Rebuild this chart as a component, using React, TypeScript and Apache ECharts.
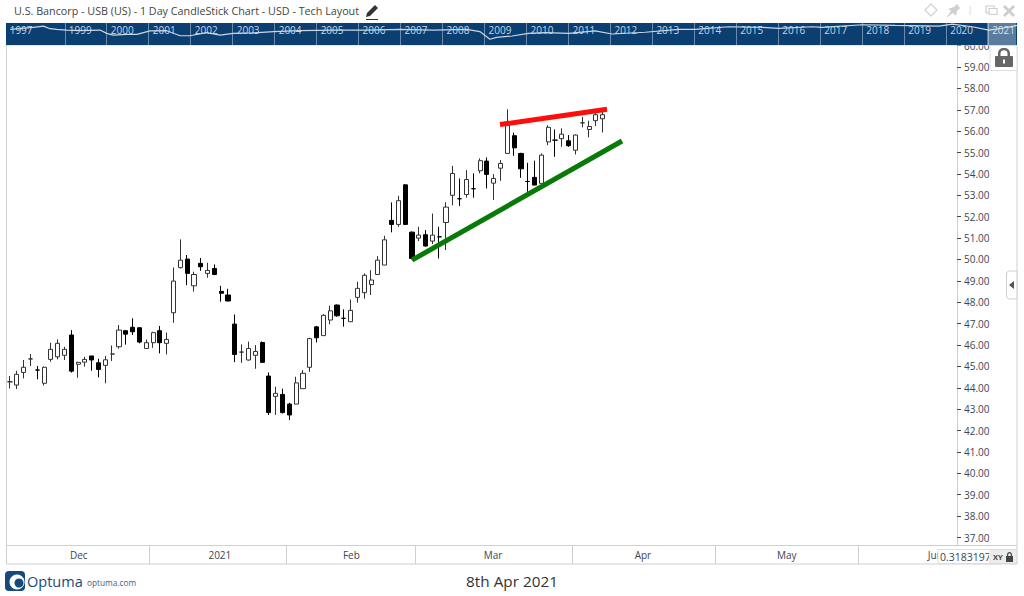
import React, { useEffect, useRef } from "react";
import * as echarts from "echarts";

const FONT = '"Open Sans", sans-serif';

const opens = [44.28,44.13,44.72,45.35,44.83,44.21,45.33,45.45,45.52,46.47,45.10,45.20,45.49,45.17,45.05,45.58,45.92,46.67,46.83,46.81,45.84,46.11,46.67,46.08,47.51,49.62,50.02,48.77,49.82,49.35,49.58,48.51,48.34,46.98,45.67,45.30,45.52,46.12,44.55,43.60,43.69,43.24,43.24,43.96,44.96,46.85,46.44,47.17,47.87,47.25,47.09,48.23,48.45,48.83,49.30,49.74,51.83,51.64,53.49,51.28,51.00,51.16,50.86,51.06,51.73,53.00,52.84,53.04,53.31,54.15,54.60,53.57,54.27,54.96,55.79,54.96,53.65,53.84,53.56,55.50,55.58,55.65,55.55,55.11,56.39,56.08,56.49,56.58];
const closes = [44.28,44.63,44.96,45.35,44.83,44.96,45.80,46.08,45.80,44.78,45.19,45.33,45.30,44.86,45.31,45.58,46.70,46.51,46.62,46.14,46.11,46.58,46.11,46.26,48.99,49.97,49.35,49.30,49.66,49.49,49.30,48.42,48.06,45.56,45.67,45.84,45.70,45.19,42.84,43.74,42.84,42.73,44.23,44.68,46.30,46.34,47.39,47.60,47.37,47.25,47.62,48.65,49.26,49.04,49.97,50.92,51.64,52.75,51.64,50.05,51.14,50.63,51.14,51.06,52.45,54.02,52.84,53.74,53.31,54.62,53.98,53.79,54.49,56.28,55.22,54.24,53.65,53.48,54.88,56.18,55.58,55.86,55.32,55.82,56.39,56.22,56.77,56.77];
const lows = [43.97,43.94,44.44,45.02,44.40,44.11,45.22,45.33,45.30,44.71,44.47,44.99,44.80,44.49,44.21,45.25,45.83,46.02,46.47,46.08,45.84,45.87,45.61,45.56,47.04,49.58,48.80,48.50,49.47,49.15,49.27,48.03,48.04,45.20,45.17,45.27,44.89,45.16,42.73,42.73,42.80,42.49,43.24,43.96,44.75,46.12,46.44,46.97,47.32,46.86,47.09,47.98,48.17,48.34,49.30,49.74,51.27,51.53,51.61,50.00,50.86,50.60,50.72,50.05,50.44,52.53,52.50,52.89,52.89,54.03,53.32,52.78,53.68,54.96,54.85,53.82,53.17,53.48,53.56,55.35,54.80,55.27,55.27,54.91,56.18,55.71,56.24,55.94];
const highs = [44.55,44.80,45.30,45.58,45.02,45.00,46.11,46.27,45.92,46.70,45.22,45.45,45.49,45.36,45.49,45.98,46.94,46.70,47.25,46.83,46.26,46.62,46.89,46.58,49.63,50.94,50.21,49.43,50.07,49.85,49.77,48.77,48.63,47.43,46.03,46.16,46.00,46.17,44.72,44.05,43.96,43.30,44.52,44.83,46.34,46.89,47.45,47.84,47.90,47.67,48.13,48.96,49.35,49.50,50.16,51.11,52.67,52.98,53.53,51.31,51.53,51.38,52.15,51.53,52.68,54.38,53.79,54.18,54.03,54.73,54.77,53.99,54.65,57.02,55.93,54.99,54.52,54.62,54.96,56.28,56.08,56.13,55.82,55.85,56.67,56.49,56.90,56.90];

const monthNames = ["Dec", "2021", "Feb", "Mar", "Apr", "May", "Jun"];
const monthSessions = [21, 20, 19, 23, 21, 21, 14];
const monthStarts = [21, 41, 60, 83, 104, 125];
const monthLabelAt = [10.6, 31.3, 50.6, 71.4, 93.4, 114.5, 136.3];

const priceTicks = [37,38,39,40,41,42,43,44,45,46,47,48,49,50,51,52,53,54,55,56,57,58,59,60];

const redLineX = [72.42, 88.13];
const redLineY = [56.31, 57.03];
const greenLineX = [59.5, 90.33];
const greenLineY = [49.97, 55.54];

const overviewYears = [1997.7,1998.25,1998.49,1998.65,1998.81,1999.05,1999.36,1999.84,2000.0,2000.15,2000.48,2000.72,2001.03,2001.43,2001.75,2001.98,2002.38,2002.7,2003.01,2003.49,2003.97,2004.6,2005.4,2006.19,2006.99,2007.78,2008.58,2008.89,2009.13,2009.29,2009.66,2010.05,2010.45,2011.01,2011.64,2012.04,2012.83,2013.63,2014.03,2014.82,2015.62,2016.01,2016.81,2017.05,2018.0,2018.79,2019.83,2020.15,2020.62,2021.02,2021.34,2021.7];
const overviewValues = [71,80,86,74,71,68,65,68,53,45,48,48,64,65,42,42,56,45,53,55,61,65,68,68,71,68,71,61,26,35,41,53,56,53,64,50,58,71,71,83,80,76,83,80,92,89,86,95,83,68,76,89];

const yearDividers = [1999,2000,2001,2002,2003,2004,2005,2006,2007,2008,2009,2010,2011,2012,2013,2014,2015,2016,2017,2018,2019,2020,2021];
const yearLabelAt = [1997.96,1999.37,2000.37,2001.37,2002.37,2003.37,2004.37,2005.37,2006.37,2007.37,2008.37,2009.37,2010.37,2011.37,2012.37,2013.37,2014.37,2015.37,2016.37,2017.37,2018.37,2019.37,2020.37,2021.37];

const PENCIL = "M0 13 L1 9 L9 1 L12 4 L4 12 Z M0 15 H12 V16 H0 Z";
const LOCK = "M3 8 V5.5 C3 2 5.5 0 9 0 C12.5 0 15 2 15 5.5 V8 H17 Q18 8 18 9 V18 Q18 19 17 19 H1 Q0 19 0 18 V9 Q0 8 1 8 Z M5.5 8 H12.5 V5.5 C12.5 3.5 11 2.3 9 2.3 C7 2.3 5.5 3.5 5.5 5.5 Z M8 11.5 V15.5 H10 V11.5 Z";
const PIN = "M0 14 L5 7 L2 5 L8 3 L11 0 L14 4 L11 7 L10 12 L7 9 Z";
const CROSS = "M0 2 L2 0 L6 4 L10 0 L12 2 L8 6 L12 10 L10 12 L6 8 L2 12 L0 10 L4 6 Z";
const SMALLLOCK = "M1 4 V3 C1 1 2 0 3.5 0 C5 0 6 1 6 3 V4 H7 V10 H0 V4 Z M2.2 4 H4.8 V3 C4.8 2 4.3 1.2 3.5 1.2 C2.7 1.2 2.2 2 2.2 3 Z";

function App() {
  const ref = useRef<HTMLDivElement>(null);
  useEffect(() => {
    document.body.style.margin = "0";
    echarts.graphic.registerShape("usbPencil", echarts.graphic.extendPath(PENCIL, {}));
    echarts.graphic.registerShape("usbLock", echarts.graphic.extendPath(LOCK, {}));
    echarts.graphic.registerShape("usbPin", echarts.graphic.extendPath(PIN, {}));
    echarts.graphic.registerShape("usbCross", echarts.graphic.extendPath(CROSS, {}));
    echarts.graphic.registerShape("usbSmallLock", echarts.graphic.extendPath(SMALLLOCK, {}));
    const chart = echarts.init(ref.current!, undefined, { renderer: "svg" });
    const categories: string[] = [];
    monthNames.forEach((m, i) => {
      for (let d = 0; d < monthSessions[i]; d++) categories.push(m + "-" + (d + 1));
    });
    const candles = opens.map((o, i) => [o, closes[i], lows[i], highs[i]]);
    const BORDER = "#cfcfcf";
    const hi = 100;
    const option: any = {
      animation: false,
      backgroundColor: "#fff",
      grid: [
        { left: 6.6, top: 45, width: 947, height: 500 },
        { left: 6, top: 23, width: 1011, height: 22 },
      ],
      xAxis: [
        { type: "category", gridIndex: 0, data: categories, show: false, boundaryGap: true },
        {
          type: "value", gridIndex: 0, min: 0, max: 139, position: "bottom",
          splitLine: { show: false },
          axisLine: { show: false, onZero: false },
          axisTick: { show: true, customValues: monthStarts, length: 19, lineStyle: { color: BORDER, width: 1 } },
          axisLabel: {
            show: true, customValues: monthLabelAt, margin: 5, fontFamily: FONT, fontSize: 10, color: "#3a4654",
            formatter: (v: number) => monthNames[monthLabelAt.indexOf(v)],
          },
        },
        {
          type: "value", gridIndex: 1, min: 1997.6, max: 2021.69, position: "bottom", z: 20,
          splitLine: { show: false },
          axisLine: { show: false, onZero: false },
          axisTick: { show: true, inside: true, customValues: yearDividers, length: 22, lineStyle: { color: "rgba(255,255,255,0.4)", width: 1 } },
          axisLabel: {
            show: true, inside: true, margin: 10, customValues: yearLabelAt,
            fontFamily: FONT, fontSize: 10, color: "#c6d4e2",
            formatter: (v: number) => String(Math.floor(v)),
          },
        },
      ],
      yAxis: [
        {
          type: "value", gridIndex: 0, position: "right", offset: 3.4, min: 36.65, max: 60.03,
          splitLine: { show: false },
          axisLine: { show: true, onZero: false, lineStyle: { color: BORDER } },
          axisTick: { show: true, customValues: priceTicks, length: 4, lineStyle: { color: "#444" } },
          axisLabel: {
            show: true, customValues: priceTicks, margin: 7, fontFamily: FONT, fontSize: 10, color: "#3a4654",
            formatter: (v: number) => v.toFixed(2),
          },
        },
        { type: "value", gridIndex: 1, min: 0, max: 100, show: false },
      ],
      series: [
        {
          type: "candlestick", xAxisIndex: 0, yAxisIndex: 0, data: candles, barWidth: 4.6,
          itemStyle: { color: "#fff", color0: "#000", borderColor: "#333", borderColor0: "#000", borderWidth: 1 },
        },
        {
          type: "line", xAxisIndex: 1, yAxisIndex: 0, symbol: "none", z: 5,
          data: redLineX.map((x, i) => [x, redLineY[i]]),
          lineStyle: { color: "#ff0d0d", width: 5 },
        },
        {
          type: "line", xAxisIndex: 1, yAxisIndex: 0, symbol: "none", z: 5,
          data: greenLineX.map((x, i) => [x, greenLineY[i]]),
          lineStyle: { color: "#087a08", width: 5 },
        },
        {
          type: "line", xAxisIndex: 2, yAxisIndex: 1, symbol: "none", z: 20,
          data: overviewYears.map((x, i) => [x, overviewValues[i]]),
          lineStyle: { color: "#c9d6e3", width: 1.2 },
        },
      ],
      graphic: [
        // frame
        { type: "rect", z: 1, shape: { x: 6.5, y: 45, width: 1010.5, height: 519 }, style: { fill: "none", stroke: BORDER, lineWidth: 1 } },
        { type: "line", z: 1, shape: { x1: 6, y1: 545.5, x2: 1017, y2: 545.5 }, style: { stroke: BORDER, lineWidth: 1 } },
        // overview band
        { type: "rect", z: 5, shape: { x: 6, y: 23, width: 1011, height: 22 }, style: { fill: "#0b3f72" } },
        { type: "rect", z: 30, shape: { x: 987, y: 23, width: 29, height: 22 }, style: { fill: "rgba(255,255,255,0.32)" } },
        // header
        { type: "text", z: hi, x: 14, y: 11, style: { text: "U.S. Bancorp - USB (US) - 1 Day CandleStick Chart - USD - Tech Layout", font: `10.75px ${FONT}`, fill: "#444", verticalAlign: "middle" } },
        { type: "usbPencil", z: hi, x: 366, y: 4, scaleX: 1, scaleY: 1, style: { fill: "#333" } },
        // window icons
        { type: "polygon", z: hi, shape: { points: [[931, 4], [937, 10], [931, 16], [925, 10]] }, style: { fill: "none", stroke: "#d4d4d4", lineWidth: 1.3 } },
        { type: "usbPin", z: hi, x: 946, y: 4, style: { fill: "#d0d0d0" } },
        { type: "rect", z: hi, shape: { x: 969.5, y: 6, width: 1.5, height: 9 }, style: { fill: "#e8e8e8" } },
        { type: "rect", z: hi, shape: { x: 986, y: 6, width: 8, height: 7 }, style: { fill: "none", stroke: "#cfcfcf", lineWidth: 1.2 } },
        { type: "rect", z: hi, shape: { x: 989, y: 8.5, width: 8, height: 6 }, style: { fill: "#fff", stroke: "#cfcfcf", lineWidth: 1.2 } },
        { type: "usbCross", z: hi, x: 1003, y: 5, style: { fill: "#cdcdcd" } },
        // lock tab
        { type: "rect", z: hi, shape: { x: 990, y: 45.5, width: 27, height: 25 }, style: { fill: "#fff", stroke: "#dedede", lineWidth: 1 } },
        { type: "usbLock", z: hi, x: 995, y: 48, style: { fill: "#666" } },
        // collapse tab
        { type: "rect", z: hi, shape: { x: 1006.5, y: 271, width: 10.5, height: 28, r: [3, 0, 0, 3] }, style: { fill: "#fff", stroke: "#cfcfcf", lineWidth: 1 } },
        { type: "polygon", z: hi, shape: { points: [[1009, 285], [1014, 281], [1014, 289]] }, style: { fill: "#555" } },
        // xy box
        { type: "rect", z: hi, shape: { x: 938, y: 549.5, width: 78, height: 14 }, style: { fill: "#fff", stroke: "#dcdcdc", lineWidth: 1 } },
        { type: "text", z: hi, x: 940, y: 556.5, style: { text: "0.3183197", font: `10.5px ${FONT}`, fill: "#3a4654", verticalAlign: "middle" } },
        { type: "rect", z: hi + 1, shape: { x: 989, y: 550, width: 27, height: 13 }, style: { fill: "#ececec" } },
        { type: "text", z: hi + 2, x: 993, y: 556.5, style: { text: "XY", font: `bold 7.5px ${FONT}`, fill: "#444", verticalAlign: "middle" } },
        { type: "usbSmallLock", z: hi + 2, x: 1006, y: 552, style: { fill: "#444" } },
        // footer logo
        { type: "rect", z: hi, shape: { x: 5, y: 571, width: 20, height: 20, r: 4 }, style: { fill: "#164a7e" } },
        { type: "circle", z: hi, shape: { cx: 17, cy: 582, r: 7.5 }, style: { fill: "#fff" } },
        { type: "circle", z: hi, shape: { cx: 19, cy: 583, r: 4.5 }, style: { fill: "#164a7e" } },
        { type: "text", z: hi, x: 27, y: 581, style: { text: "Optuma", font: `14.5px ${FONT}`, fill: "#164a7e", verticalAlign: "middle" } },
        { type: "text", z: hi, x: 87, y: 582, style: { text: "optuma.com", font: `8.3px ${FONT}`, fill: "#44607c", verticalAlign: "middle" } },
        { type: "text", z: hi, x: 512, y: 581, style: { text: "8th Apr 2021", font: `15.3px ${FONT}`, fill: "#333", align: "center", verticalAlign: "middle" } },
      ],
    };
    chart.setOption(option);
    return () => chart.dispose();
  }, []);
  return <div ref={ref} style={{ position: "absolute", left: 0, top: 0, width: 1024, height: 596 }} />;
}

export default App;
